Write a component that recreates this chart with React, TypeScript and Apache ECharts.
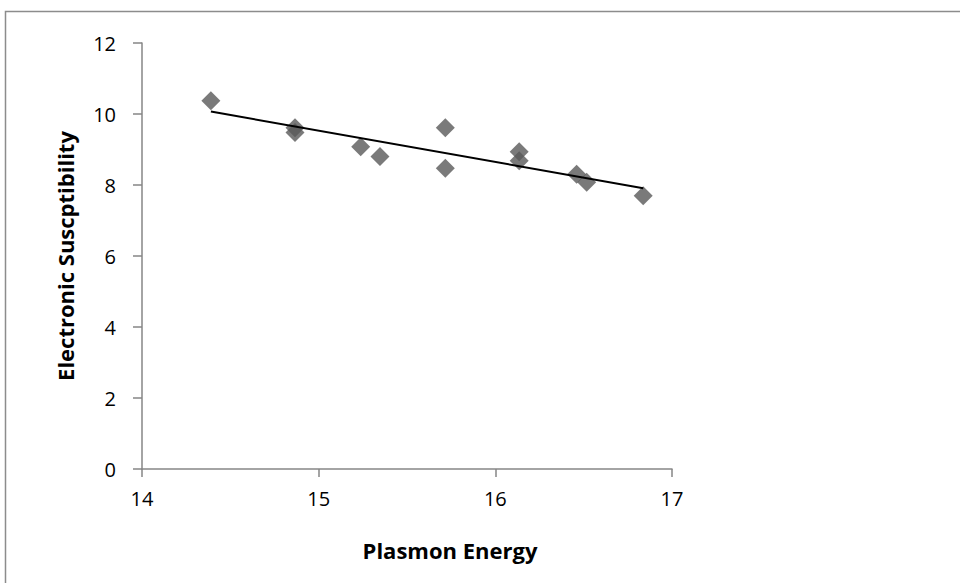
import React, { useEffect, useRef } from "react";
import * as echarts from "echarts";

const plasmonEnergy: number[] = [14.39, 14.866, 14.866, 15.238, 15.347, 15.717, 15.717, 16.135, 16.135, 16.46, 16.517, 16.837];
const susceptibility: number[] = [10.37, 9.61, 9.48, 9.08, 8.8, 9.61, 8.47, 8.94, 8.68, 8.3, 8.08, 7.7];

const xTitle = "Plasmon Energy";
const yTitle = "Electronic Suscptibility";

function linearFit(xs: number[], ys: number[]) {
  const n = xs.length;
  const mx = xs.reduce((a, b) => a + b, 0) / n;
  const my = ys.reduce((a, b) => a + b, 0) / n;
  let sxy = 0;
  let sxx = 0;
  for (let i = 0; i < n; i++) {
    sxy += (xs[i] - mx) * (ys[i] - my);
    sxx += (xs[i] - mx) * (xs[i] - mx);
  }
  const slope = sxy / sxx;
  const intercept = my - slope * mx;
  return { slope, intercept };
}

export default function App() {
  const ref = useRef<HTMLDivElement>(null);

  useEffect(() => {
    if (!ref.current) return;
    const chart = echarts.init(ref.current, undefined, { renderer: "svg" });
    const { slope, intercept } = linearFit(plasmonEnergy, susceptibility);
    const xMin = Math.min(...plasmonEnergy);
    const xMax = Math.max(...plasmonEnergy);
    const trend = [
      [xMin, slope * xMin + intercept],
      [xMax, slope * xMax + intercept],
    ];
    const axisColor = "#868686";
    const font = "'Open Sans', 'Liberation Sans', sans-serif";

    chart.setOption({
      animation: false,
      backgroundColor: "#ffffff",
      grid: { left: 142, top: 43, right: 288, bottom: 114, containLabel: false },
      graphic: [
        {
          type: "rect",
          shape: { x: 5.5, y: 11.5, width: 1000, height: 1000 },
          style: { fill: "none", stroke: "#8c8c8c", lineWidth: 1.5 },
          silent: true,
        },
      ],
      xAxis: {
        type: "value",
        min: 14,
        max: 17,
        interval: 1,
        name: xTitle,
        nameLocation: "middle",
        nameGap: 70,
        nameTextStyle: {
          fontFamily: font,
          fontWeight: "bold",
          fontSize: 22,
          color: "#000",
          padding: [0, 0, 0, 86],
        },
        axisLine: { show: true, onZero: false, lineStyle: { color: axisColor, width: 1.5 } },
        axisTick: { show: true, length: 8, inside: false, lineStyle: { color: axisColor, width: 1.5 } },
        axisLabel: { fontFamily: font, fontSize: 20, color: "#000", margin: 19 },
        splitLine: { show: false },
      },
      yAxis: {
        type: "value",
        min: 0,
        max: 12,
        interval: 2,
        name: yTitle,
        nameLocation: "middle",
        nameGap: 66,
        nameRotate: 90,
        nameTextStyle: {
          fontFamily: font,
          fontWeight: "bold",
          fontSize: 22,
          color: "#000",
        },
        axisLine: { show: true, onZero: false, lineStyle: { color: axisColor, width: 1.5 } },
        axisTick: { show: true, length: 9, inside: false, lineStyle: { color: axisColor, width: 1.5 } },
        axisLabel: { fontFamily: font, fontSize: 20, color: "#000", margin: 26 },
        splitLine: { show: false },
      },
      series: [
        {
          type: "line",
          data: trend,
          symbol: "none",
          lineStyle: { color: "#000000", width: 2 },
          z: 3,
          silent: true,
        },
        {
          type: "scatter",
          data: plasmonEnergy.map((x, i) => [x, susceptibility[i]]),
          symbol: "diamond",
          symbolSize: [19, 19],
          itemStyle: { color: "#595959" },
          z: 2,
        },
      ],
    });
    return () => chart.dispose();
  }, []);

  return (
    <div
      ref={ref}
      style={{ position: "fixed", left: 0, top: 0, width: 960, height: 583, background: "#fff" }}
    />
  );
}
